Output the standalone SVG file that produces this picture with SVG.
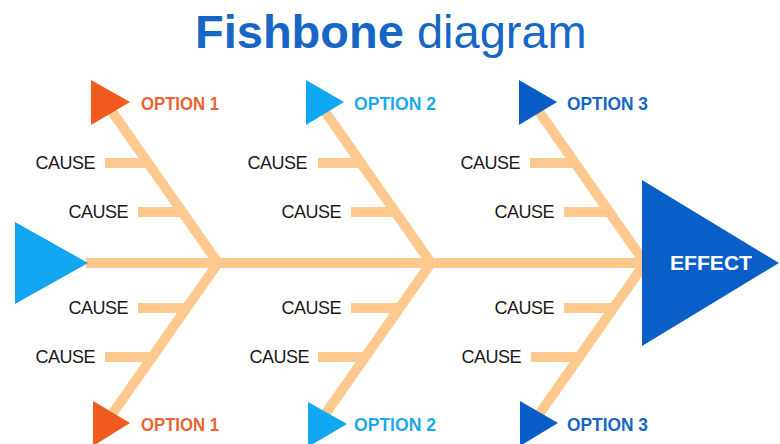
<svg xmlns="http://www.w3.org/2000/svg" width="780" height="444" viewBox="0 0 780 444">
  <defs>
    <style>
      .bone { fill: none; stroke: #FDC98E; stroke-width: 10; stroke-linejoin: miter; stroke-miterlimit: 10; }
      .cause { font-family: "Liberation Sans", Arial, sans-serif; font-size: 18px; letter-spacing: -0.5px; fill: #1a1a1a; text-anchor: end; }
      .opt { font-family: "Liberation Sans", Arial, sans-serif; font-size: 19px; font-weight: bold; }
      .o1 { fill: #F15A1E; }
      .o2 { fill: #10A8F2; }
      .o3 { fill: #0A5DC6; }
      .t1 { fill: #E9642E; }
      .t2 { fill: #1BA8EA; }
      .t3 { fill: #1565C3; }
    </style>
  </defs>
  <rect width="780" height="444" fill="#ffffff"/>

  <!-- title -->
  <text x="195" y="48" font-family="Liberation Sans, Arial, sans-serif" font-size="47" fill="#1766C6"><tspan font-weight="bold">Fishbone</tspan> diagram</text>

  <!-- connectors: spine, ribs and cause lines -->
  <g id="connectors">
    <line class="bone" x1="86" y1="263" x2="645" y2="263"/>
    <polyline class="bone" points="106,103 218,263 106,423"/>
    <polyline class="bone" points="319,103 431,263 319,423"/>
    <polyline class="bone" points="533,103 645,263 533,423"/>
    <!-- column 1 -->
    <line class="bone" x1="105" y1="163" x2="150" y2="163"/>
    <line class="bone" x1="138" y1="212" x2="184" y2="212"/>
    <line class="bone" x1="138" y1="308" x2="188" y2="308"/>
    <line class="bone" x1="105" y1="357" x2="154" y2="357"/>
    <!-- column 2 -->
    <line class="bone" x1="318" y1="163" x2="363" y2="163"/>
    <line class="bone" x1="351" y1="212" x2="397" y2="212"/>
    <line class="bone" x1="351" y1="308" x2="401" y2="308"/>
    <line class="bone" x1="318" y1="357" x2="367" y2="357"/>
    <!-- column 3 -->
    <line class="bone" x1="530" y1="163" x2="577" y2="163"/>
    <line class="bone" x1="564" y1="212" x2="611" y2="212"/>
    <line class="bone" x1="564" y1="308" x2="615" y2="308"/>
    <line class="bone" x1="531" y1="357" x2="581" y2="357"/>
  </g>

  <!-- tail -->
  <g id="tail">
    <polygon points="15,222 15,304 88,263" fill="#12A6F1"/>
  </g>

  <!-- head -->
  <g id="effect">
    <polygon points="642,180 642,346 779,263" fill="#0A5EC8"/>
    <text x="670" y="270" font-family="Liberation Sans, Arial, sans-serif" font-size="20" font-weight="bold" fill="#ffffff" textLength="82" lengthAdjust="spacingAndGlyphs">EFFECT</text>
  </g>

  <!-- option markers -->
  <g id="option1-top">
    <polygon class="o1" points="91,80 91,125 130,102"/>
    <text class="opt t1" x="141" y="110" textLength="78" lengthAdjust="spacingAndGlyphs">OPTION 1</text>
  </g>
  <g id="option2-top">
    <polygon class="o2" points="306,80 306,125 344,102"/>
    <text class="opt t2" x="354" y="110" textLength="82" lengthAdjust="spacingAndGlyphs">OPTION 2</text>
  </g>
  <g id="option3-top">
    <polygon class="o3" points="519,80 519,125 557,102"/>
    <text class="opt t3" x="567" y="110" textLength="81" lengthAdjust="spacingAndGlyphs">OPTION 3</text>
  </g>
  <g id="option1-bottom">
    <polygon class="o1" points="93,401 93,446 130,423"/>
    <text class="opt t1" x="141" y="431" textLength="78" lengthAdjust="spacingAndGlyphs">OPTION 1</text>
  </g>
  <g id="option2-bottom">
    <polygon class="o2" points="308,402 308,447 347,424"/>
    <text class="opt t2" x="354" y="431" textLength="82" lengthAdjust="spacingAndGlyphs">OPTION 2</text>
  </g>
  <g id="option3-bottom">
    <polygon class="o3" points="520,401 520,446 558,423"/>
    <text class="opt t3" x="567" y="431" textLength="81" lengthAdjust="spacingAndGlyphs">OPTION 3</text>
  </g>

  <!-- cause labels -->
  <g id="causes-1">
    <text class="cause" x="95" y="169">CAUSE</text>
    <text class="cause" x="128" y="218">CAUSE</text>
    <text class="cause" x="128" y="314">CAUSE</text>
    <text class="cause" x="95" y="363">CAUSE</text>
  </g>
  <g id="causes-2">
    <text class="cause" x="307" y="169">CAUSE</text>
    <text class="cause" x="341" y="218">CAUSE</text>
    <text class="cause" x="341" y="314">CAUSE</text>
    <text class="cause" x="309" y="363">CAUSE</text>
  </g>
  <g id="causes-3">
    <text class="cause" x="520" y="169">CAUSE</text>
    <text class="cause" x="554" y="218">CAUSE</text>
    <text class="cause" x="554" y="314">CAUSE</text>
    <text class="cause" x="521" y="363">CAUSE</text>
  </g>
</svg>
